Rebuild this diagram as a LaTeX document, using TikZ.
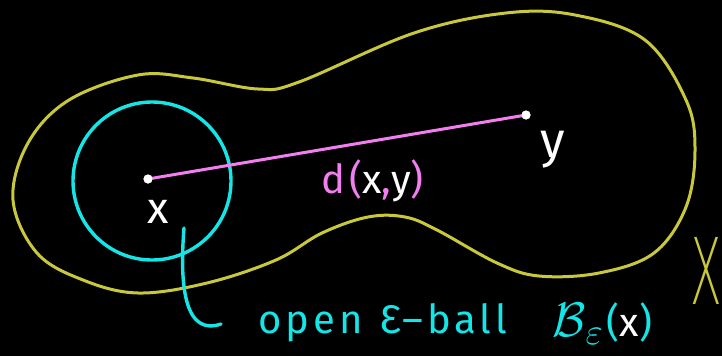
\documentclass[tikz,border=0pt]{standalone}
\usepackage{graphicx}
\usepackage{fontspec}
\setmainfont{Fira Sans}
\newfontfamily\hand{Fira Sans}[LetterSpace=10]
\newfontfamily\thinfont{DejaVu Sans ExtraLight}
\usetikzlibrary{calc}
\definecolor{blobY}{HTML}{C9C83B}
\definecolor{ballC}{HTML}{14E6E8}
\definecolor{distM}{HTML}{F27EF0}
\tikzset{
  blob/.style={draw=blobY, line width=3pt},
  ball/.style={draw=ballC, line width=3.4pt},
  dist/.style={draw=distM, line width=3pt, line cap=round},
  dot/.style={circle, fill=white, inner sep=0pt, minimum size=9pt},
  lbl/.style={text=white, inner sep=0pt, font=\hand\fontsize{44}{46}\selectfont},
  cylbl/.style={text=ballC, inner sep=0pt, font=\hand\fontsize{40}{42}\selectfont},
}
\begin{document}
\begin{tikzpicture}[x=1pt,y=-1pt]
\fill[black] (0,0) rectangle (722,356);
\useasboundingbox (0,0) rectangle (722,356);
% space X
\draw[blob] plot[smooth cycle, tension=0.6] coordinates {
  (13,200) (28,143) (69,100) (138,75) (193,78) (258,89) (299,82)
  (414,33) (506,13) (575,15) (645,40) (686,100) (695,150) (686,207)
  (654,253) (599,273) (539,276) (497,263) (437,230) (405,217) (368,217)
  (322,233) (276,260) (207,283) (138,293) (83,280) (37,253)};
% open ball
\node[ball, circle, minimum size=158pt, inner sep=0pt] (ballB) at (152,181) {};
% distance
\node[dot] (px) at (148,179) {};
\node[dot] (py) at (526,115) {};
\draw[dist] (px) -- (py);
\node[dot] at (px) {};
\node[dot] at (py) {};
\node[lbl] (xl) at (158,212) {x};
\node[lbl, font=\hand\fontsize{50}{52}\selectfont] (yl) at (553,150) {y};
\node[cylbl, text=distM, anchor=base west] (dl) at (321,193) {d(\textcolor{white}{x},\textcolor{white}{y})};
% pointer to ball
\coordinate (ptr) at (221,324);
\draw[ball, line cap=round] (184,228) .. controls (179,290) and (186,336) .. (ptr);
\node[cylbl, anchor=base west] (open) at (258,333) {open\hspace*{18pt}Ɛ–ball};
\node[cylbl, anchor=base west] (Bex) at (552,336) {\scalebox{1.95}{$\mathcal{B}$}\raisebox{-8pt}{\scalebox{1.5}{$\varepsilon$}}\hspace*{4pt}(\textcolor{white}{x})};
\node[text=blobY, inner sep=0pt, font=\thinfont\fontsize{92}{92}\selectfont, xscale=0.5] (Xl) at (706,271) {X};
\end{tikzpicture}
\end{document}
